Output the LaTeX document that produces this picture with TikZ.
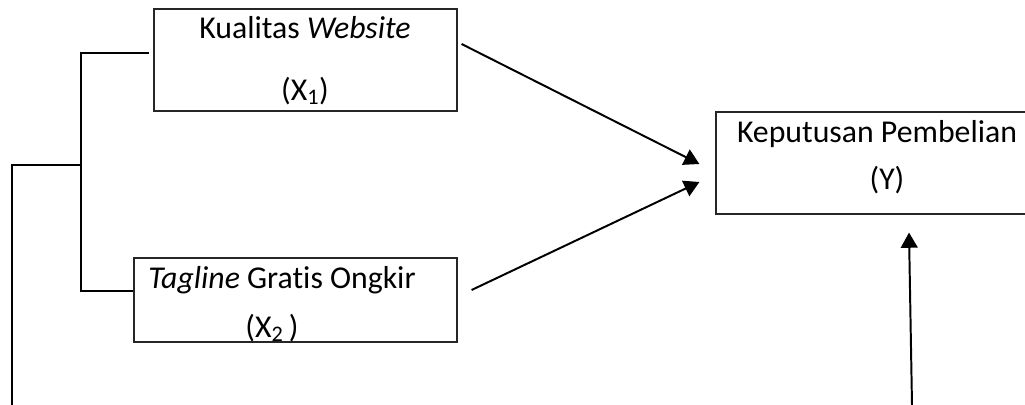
\documentclass[tikz,border=0pt]{standalone}
\usepackage{fontspec}
\setmainfont[Ligatures=NoCommon]{Carlito}
\usetikzlibrary{arrows.meta, positioning}

\tikzset{
  varbox/.style={draw=black!85, line width=0.8pt, inner sep=0pt},
  link/.style={line width=1.4pt},
  lbl/.style={inner sep=0pt, anchor=center}
}

\begin{document}
\begin{tikzpicture}[x=0.025cm, y=-0.025cm, >={Triangle[length=0.38cm, width=0.42cm]},
    font=\fontsize{22.6}{27}\selectfont]

    \useasboundingbox (0,0) rectangle (1025,405);

    % --- Variable boxes ---
    \node[varbox, minimum width=7.575cm, minimum height=2.55cm] (x1) at (305.5, 60) {};
    \node[varbox, minimum width=8.075cm, minimum height=2.1cm] (x2) at (295.5, 300) {};
    \node[varbox, minimum width=7.85cm, minimum height=2.55cm] (y) at (873, 163) {};

    % Box texts
    \node[lbl] (x1name) at (305, 28) {Kualitas \textit{Website}};
    \node[lbl] (x1sym) at (305, 91) {(X\textsubscript{1})};
    \node[lbl] (x2name) at (282, 280) {\textit{Tagline} Gratis Ongkir};
    \node[lbl] (x2sym) at (272, 328) {(X\textsubscript{2}\,)};
    \node[lbl] (yname) at (877, 134) {Keputusan Pembelian};
    \node[lbl] (ysym) at (887, 180) {(Y)};

    % --- Bracket on the left ---
    \coordinate (brtop) at (81, 53);
    \coordinate (brmid) at (81, 165);
    \coordinate (brbot) at (81, 291);
    \coordinate (leftfoot) at (12, 405);
    \draw[link, shorten <=0.12cm] (x1.west |- brtop) -- (brtop) -- (brbot) -- (x2.west |- brbot);
    \draw[link] (brmid) -| (leftfoot);

    % --- Arrows into Y ---
    \draw[link, ->] ([shift={(4,-16)}]x1.east) -- ([shift={(-16,1)}]y.west);
    \draw[link, ->] ([shift={(14,-10)}]x2.east) -- ([shift={(-16,19)}]y.west);
    \coordinate (rightfoot) at (912, 405);
    \draw[link, ->] (rightfoot) -- ([shift={(36,18)}]y.south);

\end{tikzpicture}
\end{document}
